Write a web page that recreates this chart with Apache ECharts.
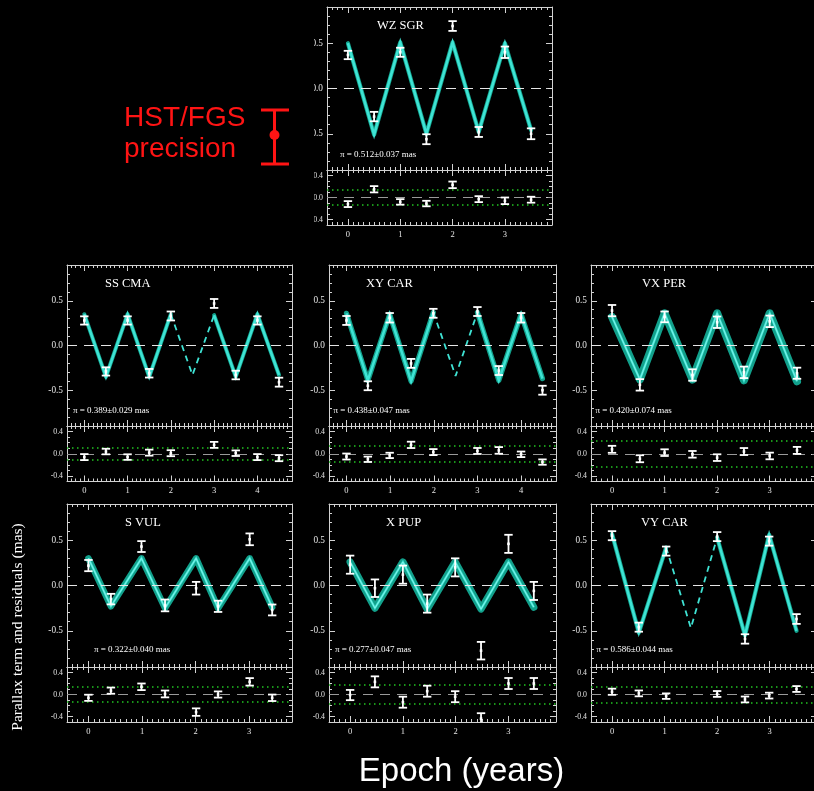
<!DOCTYPE html>
<html>
<head>
<meta charset="utf-8">
<script src="https://cdn.jsdelivr.net/npm/echarts@6/dist/echarts.min.js"></script>
<style>
html,body{margin:0;padding:0;background:#000;}
#chart{width:814px;height:791px;background:#000;}
</style>
</head>
<body>
<div id="chart"></div>
<script>
// ---------------- DATA ----------------
// tick labels
const xLabels0to3 = [0, 1, 2, 3];
const xLabels0to4 = [0, 1, 2, 3, 4];
const yMainLabels = [-0.5, 0, 0.5];
const yResLabels = [-0.4, 0, 0.4];

// WZ SGR
const wzEpoch  = [0, 0.5, 1, 1.5, 2, 2.5, 3, 3.5];
const wzModel  = [0.50, -0.51, 0.51, -0.50, 0.51, -0.48, 0.50, -0.46];
const wzObs    = [0.37, -0.31, 0.40, -0.56, 0.69, -0.48, 0.40, -0.50];
const wzObsErr = [0.046, 0.052, 0.05, 0.055, 0.054, 0.055, 0.063, 0.06];
const wzRes    = [-0.12, 0.15, -0.08, -0.11, 0.23, -0.03, -0.06, -0.04];
const wzResErr = [0.054, 0.057, 0.05, 0.05, 0.06, 0.054, 0.06, 0.054];
const wzSigma  = 0.14;

// SS CMA
const ssEpoch  = [0, 0.5, 1, 1.5, 2, 2.5, 3, 3.5, 4, 4.5];
const ssModel  = [0.35, -0.35, 0.35, -0.35, 0.35, -0.33, 0.34, -0.35, 0.35, -0.33];
const ssObs    = [0.28, -0.29, 0.28, -0.31, 0.33, null, 0.47, -0.33, 0.28, -0.41];
const ssObsErr = [0.046, 0.046, 0.046, 0.048, 0.05, null, 0.05, 0.048, 0.046, 0.05];
const ssRes    = [-0.06, 0.04, -0.06, 0.02, 0.01, null, 0.16, 0.01, -0.06, -0.08];
const ssResErr = [0.054, 0.05, 0.05, 0.054, 0.054, null, 0.054, 0.05, 0.054, 0.054];
const ssSigma  = 0.105;

// XY CAR
const xyEpoch  = [0, 0.49, 0.99, 1.48, 1.99, 2.5, 3.0, 3.49, 4.0, 4.49];
const xyModel  = [0.36, -0.39, 0.35, -0.40, 0.37, -0.34, 0.37, -0.39, 0.35, -0.37];
const xyObs    = [0.28, -0.45, 0.31, -0.20, 0.36, null, 0.38, -0.28, 0.31, -0.50];
const xyObsErr = [0.05, 0.05, 0.053, 0.05, 0.05, null, 0.05, 0.05, 0.053, 0.05];
const xyRes    = [-0.05, -0.10, -0.03, 0.16, 0.03, null, 0.05, 0.06, -0.01, -0.15];
const xyResErr = [0.054, 0.048, 0.048, 0.057, 0.054, null, 0.054, 0.06, 0.05, 0.048];
const xySigma  = 0.15;

// VX PER
const vxEpoch  = [0, 0.53, 1.0, 1.53, 2.0, 2.51, 3.0, 3.52];
const vxModel  = [0.32, -0.38, 0.36, -0.38, 0.36, -0.39, 0.36, -0.40];
const vxObs    = [0.39, -0.44, 0.32, -0.33, 0.26, -0.30, 0.27, -0.31];
const vxObsErr = [0.063, 0.064, 0.06, 0.064, 0.064, 0.064, 0.064, 0.062];
const vxRes    = [0.08, -0.09, 0.02, -0.01, -0.07, 0.04, -0.04, 0.06];
const vxResErr = [0.063, 0.063, 0.06, 0.06, 0.06, 0.063, 0.06, 0.063];
const vxSigma  = 0.24;

// S VUL
const svEpoch  = [0, 0.42, 0.99, 1.43, 2.01, 2.42, 3.01, 3.43];
const svModel  = [0.30, -0.23, 0.30, -0.25, 0.30, -0.25, 0.30, -0.24];
const svObs    = [0.22, -0.15, 0.43, -0.22, -0.03, -0.23, 0.51, -0.27];
const svObsErr = [0.062, 0.058, 0.06, 0.065, 0.07, 0.062, 0.065, 0.06];
const svRes    = [-0.06, 0.07, 0.14, 0.01, -0.32, 0.0, 0.23, -0.06];
const svResErr = [0.056, 0.056, 0.06, 0.062, 0.068, 0.056, 0.068, 0.059];
const svSigma  = 0.14;

// X PUP
const xpEpoch  = [0, 0.47, 1.0, 1.46, 1.99, 2.48, 3.0, 3.48];
const xpModel  = [0.26, -0.25, 0.26, -0.26, 0.26, -0.26, 0.26, -0.24];
const xpObs    = [0.23, -0.03, 0.12, -0.20, 0.20, -0.72, 0.46, -0.06];
const xpObsErr = [0.10, 0.097, 0.10, 0.10, 0.10, 0.097, 0.10, 0.10];
const xpRes    = [-0.01, 0.23, -0.14, 0.06, -0.04, -0.44, 0.20, 0.20];
const xpResErr = [0.093, 0.1, 0.1, 0.1, 0.1, 0.1, 0.1, 0.1];
const xpSigma  = 0.17;

// VY CAR
const vyEpoch  = [0, 0.51, 1.03, 1.5, 2.0, 2.53, 2.99, 3.51];
const vyModel  = [0.57, -0.52, 0.42, -0.47, 0.53, -0.55, 0.56, -0.50];
const vyObs    = [0.55, -0.46, 0.38, null, 0.54, -0.59, 0.49, -0.37];
const vyObsErr = [0.05, 0.05, 0.05, null, 0.05, 0.052, 0.05, 0.054];
const vyRes    = [0.05, 0.02, -0.03, null, 0.01, -0.09, -0.02, 0.10];
const vyResErr = [0.056, 0.053, 0.05, null, 0.053, 0.053, 0.053, 0.053];
const vySigma  = 0.15;

// ---------------- PANEL CONFIG (layout & style) ----------------
const panels = [
  {title:'WZ SGR', plx:'π = 0.512±0.037 mas', epoch:wzEpoch, model:wzModel, obs:wzObs, obsErr:wzObsErr, res:wzRes, resErr:wzResErr, sigma:wzSigma,
   xMax:3.9, xLabels:xLabels0to3, band:4.2, left:327, top:7, width:225, upH:163, resH:55, titleDx:50, plxDx:13, plxUp:15.7},
  {title:'SS CMA', plx:'π = 0.389±0.029 mas', epoch:ssEpoch, model:ssModel, obs:ssObs, obsErr:ssObsErr, res:ssRes, resErr:ssResErr, sigma:ssSigma,
   xMax:4.8, xLabels:xLabels0to4, band:4.0, left:67, top:265, width:225, upH:161, resH:55.5, titleDx:38, plxDx:6, plxUp:15},
  {title:'XY CAR', plx:'π = 0.438±0.047 mas', epoch:xyEpoch, model:xyModel, obs:xyObs, obsErr:xyObsErr, res:xyRes, resErr:xyResErr, sigma:xySigma,
   xMax:4.8, xLabels:xLabels0to4, band:5.2, left:329, top:265, width:227, upH:161, resH:55.5, titleDx:37, plxDx:4.5, plxUp:15},
  {title:'VX PER', plx:'π = 0.420±0.074 mas', epoch:vxEpoch, model:vxModel, obs:vxObs, obsErr:vxObsErr, res:vxRes, resErr:vxResErr, sigma:vxSigma,
   xMax:3.9, xLabels:xLabels0to3, band:8, left:591, top:265, width:226, upH:161, resH:55.5, titleDx:51, plxDx:4.5, plxUp:15},
  {title:'S VUL', plx:'π = 0.322±0.040 mas', epoch:svEpoch, model:svModel, obs:svObs, obsErr:svObsErr, res:svRes, resErr:svResErr, sigma:svSigma,
   xMax:3.8, xLabels:xLabels0to3, band:6.5, left:67, top:504, width:225, upH:163, resH:55, titleDx:58, plxDx:27, plxUp:17.3},
  {title:'X PUP', plx:'π = 0.277±0.047 mas', epoch:xpEpoch, model:xpModel, obs:xpObs, obsErr:xpObsErr, res:xpRes, resErr:xpResErr, sigma:xpSigma,
   xMax:3.9, xLabels:xLabels0to3, band:7.2, left:329, top:504, width:227, upH:163, resH:55, titleDx:57, plxDx:6, plxUp:17.3},
  {title:'VY CAR', plx:'π = 0.586±0.044 mas', epoch:vyEpoch, model:vyModel, obs:vyObs, obsErr:vyObsErr, res:vyRes, resErr:vyResErr, sigma:vySigma,
   xMax:3.9, xLabels:xLabels0to3, band:4.2, left:591, top:504, width:226, upH:163, resH:55, titleDx:50, plxDx:5.5, plxUp:17.3}
];

const X_MIN = -0.4;
const AXC = '#d2d2d2';
const SERIF = '"Liberation Serif", "Times New Roman", serif';
const BAND_C = '#12a08b';
const CORE_C = '#3fe3d4';

// ---------------- BUILD ----------------
const grids = [], xAxes = [], yAxes = [], series = [], graphics = [];

function fmt1(v){ return (Math.abs(v) < 1e-9 ? 0 : v).toFixed(1); }
function fmt0(v){ return String(Math.round(v)); }

function baseAxis(gi, pos, min, max){
  return {type:'value', gridIndex:gi, position:pos, min:min, max:max,
          splitLine:{show:false}, axisPointer:{show:false}};
}
function minorAxis(gi, pos, min, max, labelVals, fontSize, formatter, margin){
  const a = baseAxis(gi, pos, min, max);
  a.interval = 0.1;
  a.axisLine = {show:true, onZero:false, lineStyle:{color:AXC, width:1}};
  a.axisTick = {show:true, inside:true, length:3, lineStyle:{color:AXC, width:1}};
  a.axisLabel = labelVals ? {show:true, customValues:labelVals, formatter:formatter, color:'#e4e4e4',
      fontFamily:SERIF, fontSize:fontSize, margin:margin} : {show:false};
  return a;
}
function majorAxis(gi, pos, min, max, vals){
  const a = baseAxis(gi, pos, min, max);
  a.axisLine = {show:false, onZero:false};
  a.axisTick = {show:true, inside:true, length:6, customValues:vals, lineStyle:{color:AXC, width:1}};
  a.axisLabel = {show:false};
  return a;
}

// returns [xIndex, yIndex] of primary axes
function addGrid(left, top, width, height, xMax, xMajor, xLabels, yMin, yMax, yMajor, yLabels, yFont){
  const gi = grids.length;
  grids.push({left:left, top:top, width:width, height:height, show:false, containLabel:false, outerBoundsMode:'none'});
  const xi = xAxes.length;
  xAxes.push(minorAxis(gi, 'bottom', X_MIN, xMax, xLabels, 8.5, fmt0, 5));
  xAxes.push(majorAxis(gi, 'bottom', X_MIN, xMax, xMajor));
  xAxes.push(minorAxis(gi, 'top', X_MIN, xMax, null));
  xAxes.push(majorAxis(gi, 'top', X_MIN, xMax, xMajor));
  const yi = yAxes.length;
  yAxes.push(minorAxis(gi, 'left', yMin, yMax, yLabels, yFont, fmt1, 4));
  yAxes.push(majorAxis(gi, 'left', yMin, yMax, yMajor));
  yAxes.push(minorAxis(gi, 'right', yMin, yMax, null));
  yAxes.push(majorAxis(gi, 'right', yMin, yMax, yMajor));
  return [xi, yi];
}

function errorBarSeries(xi, yi, epoch, vals, errs){
  const data = [];
  epoch.forEach(function(t, i){ if (vals[i] != null) data.push([t, vals[i], errs[i]]); });
  return {
    type:'custom', xAxisIndex:xi, yAxisIndex:yi, data:data, z:6, silent:true, animation:false,
    renderItem: function(params, api){
      const x = api.value(0), y = api.value(1), e = api.value(2);
      const c = api.coord([x, y]);
      const t = api.coord([x, y + e]);
      const b = api.coord([x, y - e]);
      const cs = params.coordSys;
      const y0 = cs.y, y1 = cs.y + cs.height;
      const st = {stroke:'#ffffff', lineWidth:1.8, fill:null};
      const hw = 4.2;
      const children = [];
      const ty = Math.max(t[1], y0), by = Math.min(b[1], y1);
      if (by > ty) children.push({type:'line', shape:{x1:c[0], y1:ty, x2:c[0], y2:by}, style:st});
      if (t[1] >= y0 && t[1] <= y1) children.push({type:'line', shape:{x1:c[0]-hw, y1:t[1], x2:c[0]+hw, y2:t[1]}, style:st});
      if (b[1] >= y0 && b[1] <= y1) children.push({type:'line', shape:{x1:c[0]-hw, y1:b[1], x2:c[0]+hw, y2:b[1]}, style:st});
      if (c[1] >= y0 && c[1] <= y1) children.push({type:'rect', shape:{x:c[0]-1.3, y:c[1]-1.3, width:2.6, height:2.6}, style:{fill:'#ffffff'}});
      return {type:'group', children:children};
    }
  };
}

panels.forEach(function(p){
  const xMajor = p.xLabels;
  const up = addGrid(p.left, p.top, p.width, p.upH, p.xMax, xMajor, null, -0.9, 0.9, yMainLabels, yMainLabels, 9.3);
  const rs = addGrid(p.left, p.top + p.upH, p.width, p.resH, p.xMax, xMajor, p.xLabels, -0.5, 0.5, yResLabels, yResLabels, 7.8);

  // model: solid where observed, dashed through unobserved epochs
  const solid = p.epoch.map(function(t, i){ return [t, p.obs[i] == null ? '-' : p.model[i]]; });
  const hasGap = p.obs.some(function(v){ return v == null; });
  const dashed = p.epoch.map(function(t, i){
    const near = p.obs[i] == null || (i > 0 && p.obs[i-1] == null) || (i < p.obs.length-1 && p.obs[i+1] == null);
    return [t, near ? p.model[i] : '-'];
  });

  series.push({
    type:'line', xAxisIndex:up[0], yAxisIndex:up[1], data:solid, symbol:'none', connectNulls:false,
    silent:true, animation:false, z:2,
    lineStyle:{color:BAND_C, width:p.band, join:'round', cap:'round'},
    markLine:{silent:true, symbol:['none','none'], label:{show:false}, animation:false,
      lineStyle:{color:'#e6e6e6', width:1.2, type:[10,7]},
      data:[{yAxis:0}]}
  });
  series.push({
    type:'line', xAxisIndex:up[0], yAxisIndex:up[1], data:solid, symbol:'none', connectNulls:false,
    silent:true, animation:false, z:3,
    lineStyle:{color:CORE_C, width:p.band > 6 ? 2.2 : 2.6, join:'miter', miterLimit:10}
  });
  if (p.band > 6) {
    series.push({
      type:'line', xAxisIndex:up[0], yAxisIndex:up[1], data:solid, symbol:'none', connectNulls:false,
      silent:true, animation:false, z:3,
      lineStyle:{color:'#8ff7ee', width:0.8, join:'miter'}
    });
  }
  if (hasGap) {
    series.push({
      type:'line', xAxisIndex:up[0], yAxisIndex:up[1], data:dashed, symbol:'none', connectNulls:false,
      silent:true, animation:false, z:3,
      lineStyle:{color:CORE_C, width:1.8, type:[6,5]}
    });
  }
  series.push(errorBarSeries(up[0], up[1], p.epoch, p.obs, p.obsErr));

  // residual panel reference lines
  series.push({
    type:'line', xAxisIndex:rs[0], yAxisIndex:rs[1],
    data:p.epoch.map(function(t, i){ return [t, p.res[i] == null ? '-' : p.res[i]]; }),
    symbol:'none', silent:true, animation:false, lineStyle:{opacity:0, width:0},
    markLine:{silent:true, symbol:['none','none'], label:{show:false}, animation:false,
      data:[
        {yAxis:0, lineStyle:{color:'#9a9a9a', width:1.2, type:[10,7]}},
        {yAxis:p.sigma, lineStyle:{color:'#22c522', width:1.5, type:[1.5,3.5]}},
        {yAxis:-p.sigma, lineStyle:{color:'#22c522', width:1.5, type:[1.5,3.5]}}
      ]}
  });
  series.push(errorBarSeries(rs[0], rs[1], p.epoch, p.res, p.resErr));

  // panel texts
  graphics.push({type:'text', x:p.left + p.titleDx, y:p.top + 18.5, z:50,
    style:{text:p.title, fill:'#ffffff', font:'12.5px ' + SERIF, align:'left', verticalAlign:'middle',
           textAlign:'left', textVerticalAlign:'middle'}});
  graphics.push({type:'text', x:p.left + p.plxDx, y:p.top + p.upH - p.plxUp, z:50,
    style:{text:p.plx, fill:'#ffffff', font:'9px ' + SERIF, align:'left', verticalAlign:'middle',
           textAlign:'left', textVerticalAlign:'middle'}});
});

// cover the clipped labels of the top panel (figure was cropped there)
graphics.push({type:'rect', shape:{x:291, y:0, width:23, height:240}, style:{fill:'#000000'}, z:40});

// HST/FGS precision annotation
const RED = '#ff1414';
graphics.push({type:'text', x:124, y:118, z:60,
  style:{text:'HST/FGS', fill:RED, font:'28px "Liberation Sans", Arial, sans-serif', align:'left', verticalAlign:'middle', textAlign:'left', textVerticalAlign:'middle'}});
graphics.push({type:'text', x:124, y:149, z:60,
  style:{text:'precision', fill:RED, font:'28px "Liberation Sans", Arial, sans-serif', align:'left', verticalAlign:'middle', textAlign:'left', textVerticalAlign:'middle'}});
graphics.push({type:'line', shape:{x1:274.5, y1:110, x2:274.5, y2:164}, style:{stroke:RED, lineWidth:3}, z:60});
graphics.push({type:'line', shape:{x1:261, y1:110, x2:289, y2:110}, style:{stroke:RED, lineWidth:3}, z:60});
graphics.push({type:'line', shape:{x1:261, y1:164, x2:289, y2:164}, style:{stroke:RED, lineWidth:3}, z:60});
graphics.push({type:'circle', shape:{cx:274.5, cy:135, r:5}, style:{fill:RED}, z:61});

// axis titles
graphics.push({type:'text', x:461.5, y:772, z:60,
  style:{text:'Epoch (years)', fill:'#ffffff', font:'33px "Liberation Sans", Arial, sans-serif', align:'center', verticalAlign:'middle', textAlign:'center', textVerticalAlign:'middle'}});
graphics.push({type:'text', x:18, y:627, rotation:Math.PI/2, z:60,
  style:{text:'Parallax term and residuals (mas)', fill:'#ffffff', font:'15.5px ' + SERIF, align:'center', verticalAlign:'middle', textAlign:'center', textVerticalAlign:'middle'}});

const chart = echarts.init(document.getElementById('chart'), null, {renderer:'canvas', width:814, height:791});
chart.setOption({
  backgroundColor:'#000000',
  animation:false,
  grid:grids,
  xAxis:xAxes,
  yAxis:yAxes,
  series:series,
  graphic:{elements:graphics}
});
</script>
</body>
</html>
